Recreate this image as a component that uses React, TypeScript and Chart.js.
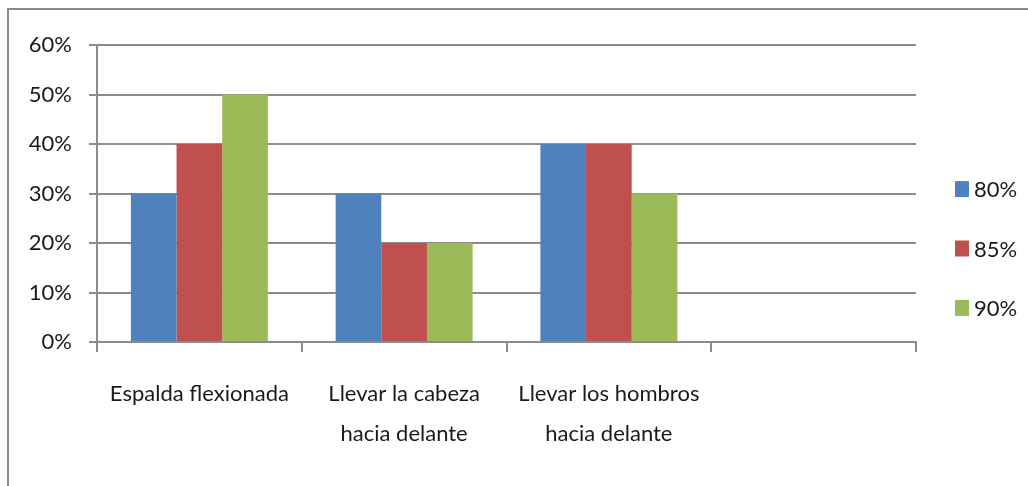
import React, { useEffect, useRef } from "react";
import { Chart, registerables } from "chart.js";

Chart.register(...registerables);

const categories: (string | string[])[] = [
  "Espalda flexionada",
  ["Llevar la cabeza", "hacia delante"],
  ["Llevar los hombros", "hacia delante"],
  "",
];
const seriesNames = ["80%", "85%", "90%"];
const values80 = [0.3, 0.3, 0.4, null];
const values85 = [0.4, 0.2, 0.4, null];
const values90 = [0.5, 0.2, 0.3, null];
const colors = ["#4F81BD", "#C0504D", "#9BBB59"];
const yMax = 0.6;
const yStep = 0.1;

const FONT = "Lato, 'DejaVu Sans Condensed', sans-serif";
const FSIZE = 22;
const TEXT = "#1a1a1a";
const GRID = "#8c8c8c";

const framePlugin = {
  id: "frame",
  beforeDraw(chart: any) {
    const ctx = chart.ctx;
    ctx.save();
    ctx.fillStyle = "#fff";
    ctx.fillRect(0, 0, chart.width, chart.height);
    ctx.strokeStyle = "#8a8a8a";
    ctx.lineWidth = 2;
    ctx.beginPath();
    ctx.moveTo(8, chart.height);
    ctx.lineTo(8, 9);
    ctx.lineTo(chart.width, 9);
    ctx.stroke();
    ctx.restore();
  },
};

const legendPlugin = {
  id: "customLegend",
  afterDraw(chart: any) {
    const ctx = chart.ctx;
    const area = chart.chartArea;
    ctx.save();
    const gap = 59.4;
    const n = chart.data.datasets.length;
    const cy = (area.top + area.bottom) / 2 + 55;
    ctx.font = `${FSIZE}px ${FONT}`;
    ctx.textBaseline = "middle";
    ctx.textAlign = "left";
    chart.data.datasets.forEach((ds: any, i: number) => {
      const y = cy + (i - (n - 1) / 2) * gap;
      ctx.fillStyle = ds.backgroundColor;
      ctx.fillRect(955, y - 8, 14, 16);
      ctx.fillStyle = TEXT;
      ctx.fillText(ds.label, 974, y + 1);
    });
    ctx.restore();
  },
};

export default function App() {
  const ref = useRef<HTMLCanvasElement>(null);
  useEffect(() => {
    document.body.style.margin = "0";
    const canvas = ref.current!;
    const chart = new Chart(canvas, {
      type: "bar",
      data: {
        labels: categories,
        datasets: [values80, values85, values90].map((d, i) => ({
          label: seriesNames[i],
          data: d,
          backgroundColor: colors[i],
          borderWidth: 0,
          categoryPercentage: 0.669,
          barPercentage: 1,
        })),
      },
      options: {
        animation: false,
        responsive: false,
        maintainAspectRatio: false,
        layout: { padding: { left: 0, right: 112, top: 45, bottom: 0 } },
        plugins: {
          legend: { display: false },
          tooltip: { enabled: false },
        },
        scales: {
          x: {
            grid: {
              display: true,
              drawOnChartArea: false,
              drawTicks: true,
              tickLength: 10,
              color: GRID,
              lineWidth: 2,
              offset: true,
            },
            border: { display: true, color: GRID, width: 2 },
            ticks: {
              color: TEXT,
              font: { family: FONT, size: FSIZE, lineHeight: 1.82 },
              padding: 22,
              maxRotation: 0,
              autoSkip: false,
            },
            afterFit(scale: any) {
              scale.height = 144;
            },
          },
          y: {
            min: 0,
            max: yMax,
            grid: {
              color: GRID,
              lineWidth: 2,
              tickLength: 8,
              drawTicks: true,
            },
            border: { display: true, color: GRID, width: 2 },
            ticks: {
              stepSize: yStep,
              color: TEXT,
              font: { family: FONT, size: FSIZE },
              padding: 17,
              callback: (v: any) => `${Math.round(Number(v) * 100)}%`,
            },
            afterFit(scale: any) {
              scale.width = 97;
            },
          },
        },
      },
      plugins: [framePlugin, legendPlugin],
    });
    return () => chart.destroy();
  }, []);
  return (
    <div style={{ width: 1028, height: 486 }}>
      <canvas ref={ref} width={1028} height={486} style={{ display: "block" }} />
    </div>
  );
}
